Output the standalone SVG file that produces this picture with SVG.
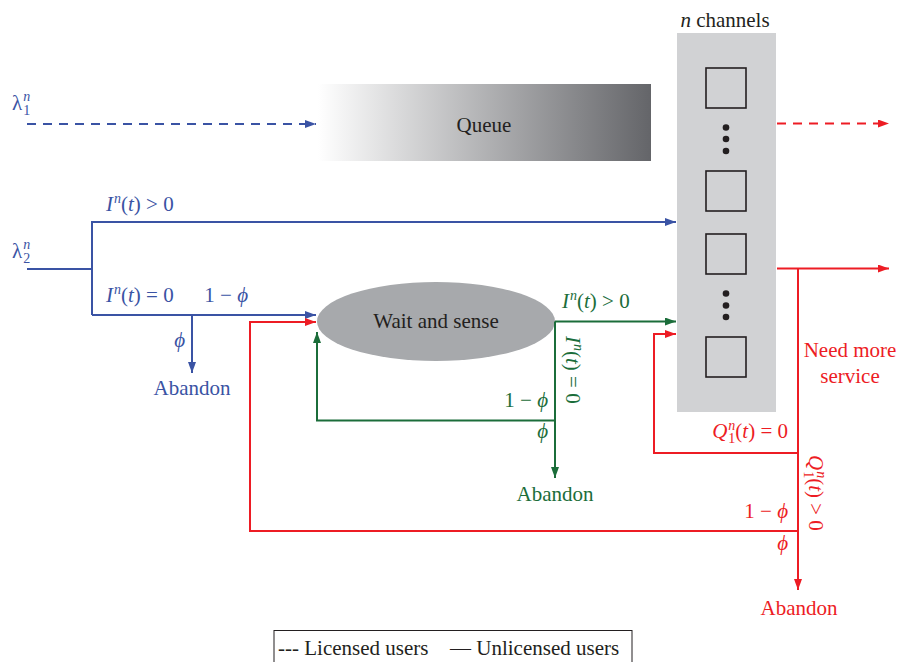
<svg xmlns="http://www.w3.org/2000/svg" width="899" height="662" viewBox="0 0 899 662">
<style>
text{font-family:"Liberation Serif","Times New Roman",serif;font-size:21px;fill:#231f20}
.it{font-style:italic}
.b{fill:#3a53a4}.g{fill:#1b6d3a}.r{fill:#ed1c24}
.lb{stroke:#3a53a4}.lg{stroke:#1b6d3a}.lr{stroke:#ed1c24}
.ln{fill:none;stroke-width:2}
.dash{stroke-dasharray:9,7}
.sq{fill:none;stroke:#231f20;stroke-width:1.6}
</style>
<defs>
<linearGradient id="qg" x1="0" y1="0" x2="1" y2="0">
<stop offset="0" stop-color="#ffffff"/>
<stop offset="1" stop-color="#646569"/>
</linearGradient>
<marker id="ab" markerUnits="userSpaceOnUse" markerWidth="11" markerHeight="8" refX="11" refY="4" orient="auto"><path d="M0,0 L11,4 L0,8 z" fill="#3a53a4"/></marker>
<marker id="ag" markerUnits="userSpaceOnUse" markerWidth="11" markerHeight="8" refX="11" refY="4" orient="auto"><path d="M0,0 L11,4 L0,8 z" fill="#1b6d3a"/></marker>
<marker id="ar" markerUnits="userSpaceOnUse" markerWidth="11" markerHeight="8" refX="11" refY="4" orient="auto"><path d="M0,0 L11,4 L0,8 z" fill="#ed1c24"/></marker>
</defs>

<g id="queue">
<rect x="318" y="84" width="333" height="77" fill="url(#qg)"/>
<text x="484" y="132" text-anchor="middle">Queue</text>
</g>

<g id="channels">
<rect x="677" y="33" width="99" height="379" fill="#d1d2d4"/>
<text x="725" y="27" text-anchor="middle"><tspan class="it">n</tspan> channels</text>
<rect class="sq" x="706" y="68" width="40" height="40"/>
<rect class="sq" x="706" y="171" width="40" height="40"/>
<rect class="sq" x="706" y="234" width="40" height="40"/>
<rect class="sq" x="706" y="337" width="40" height="40"/>
<g fill="#231f20">
<circle cx="726" cy="127.5" r="3.3"/><circle cx="726" cy="139" r="3.3"/><circle cx="726" cy="151" r="3.3"/>
<circle cx="726" cy="293.5" r="3.3"/><circle cx="726" cy="305.5" r="3.3"/><circle cx="726" cy="317" r="3.3"/>
</g>
</g>

<g id="wait">
<ellipse cx="436" cy="321.5" rx="119" ry="39.5" fill="#a7a9ac"/>
<text x="436" y="328" text-anchor="middle">Wait and sense</text>
</g>

<g id="connectors">
<path class="ln lb dash" d="M27,124 H316" marker-end="url(#ab)"/>
<path class="ln lr dash" d="M777,123.5 H889" marker-end="url(#ar)"/>
<path class="ln lb" d="M27,269 H92"/>
<path class="ln lb" d="M92,315 V222 H676" marker-end="url(#ab)"/>
<path class="ln lb" d="M92,315 H316" marker-end="url(#ab)"/>
<path class="ln lb" d="M192,315 V373" marker-end="url(#ab)"/>
<path class="ln lg" d="M555,321.5 H676" marker-end="url(#ag)"/>
<path class="ln lg" d="M555,321.5 V478" marker-end="url(#ag)"/>
<path class="ln lg" d="M555,420.5 H317 V332" marker-end="url(#ag)"/>
<path class="ln lr" d="M777,268.5 H889" marker-end="url(#ar)"/>
<path class="ln lr" d="M798,268.5 V590" marker-end="url(#ar)"/>
<path class="ln lr" d="M798,453 H654 V334 H676" marker-end="url(#ar)"/>
<path class="ln lr" d="M798,531 H250 V322 H316" marker-end="url(#ar)"/>
</g>

<g id="labels">
<text class="b" x="12" y="110">λ<tspan class="it" font-size="14" dx="1" dy="-9">n</tspan><tspan font-size="14" dx="-7" dy="14">1</tspan></text>
<text class="b" x="12" y="258">λ<tspan class="it" font-size="14" dx="1" dy="-9">n</tspan><tspan font-size="14" dx="-7" dy="14">2</tspan></text>
<text class="b" x="106" y="211"><tspan class="it">I</tspan><tspan class="it" font-size="14" dx="1" dy="-8">n</tspan><tspan dy="8">(</tspan><tspan class="it">t</tspan>) &gt; 0</text>
<text class="b" x="106" y="302"><tspan class="it">I</tspan><tspan class="it" font-size="14" dx="1" dy="-8">n</tspan><tspan dy="8">(</tspan><tspan class="it">t</tspan>) = 0</text>
<text class="b" x="248" y="302" text-anchor="end">1 − <tspan class="it">ϕ</tspan></text>
<text class="b it" x="185" y="347" text-anchor="end">ϕ</text>
<text class="b" x="192" y="395" text-anchor="middle">Abandon</text>

<text class="g" x="562" y="308"><tspan class="it">I</tspan><tspan class="it" font-size="14" dx="1" dy="-8">n</tspan><tspan dy="8">(</tspan><tspan class="it">t</tspan>) &gt; 0</text>
<text class="g" transform="translate(566,336) rotate(90)"><tspan class="it">I</tspan><tspan class="it" font-size="14" dx="1" dy="-8">n</tspan><tspan dy="8">(</tspan><tspan class="it">t</tspan>) = 0</text>
<text class="g" x="548" y="407" text-anchor="end">1 − <tspan class="it">ϕ</tspan></text>
<text class="g it" x="548" y="438" text-anchor="end">ϕ</text>
<text class="g" x="555" y="501" text-anchor="middle">Abandon</text>

<text class="r" x="850" y="357" text-anchor="middle">Need more</text>
<text class="r" x="850" y="383" text-anchor="middle">service</text>
<text class="r" x="788" y="438" text-anchor="end"><tspan class="it">Q</tspan><tspan class="it" font-size="14" dx="1" dy="-8">n</tspan><tspan font-size="14" dx="-7" dy="13">1</tspan><tspan dy="-5">(</tspan><tspan class="it">t</tspan>) = 0</text>
<text class="r" transform="translate(809,455) rotate(90)"><tspan class="it">Q</tspan><tspan class="it" font-size="14" dx="1" dy="-8">n</tspan><tspan font-size="14" dx="-7" dy="13">1</tspan><tspan dy="-5">(</tspan><tspan class="it">t</tspan>) &gt; 0</text>
<text class="r" x="788" y="518" text-anchor="end">1 − <tspan class="it">ϕ</tspan></text>
<text class="r it" x="788" y="550" text-anchor="end">ϕ</text>
<text class="r" x="799" y="615" text-anchor="middle">Abandon</text>
</g>

<g id="legend">
<rect x="274" y="630.5" width="358" height="40" fill="none" stroke="#231f20" stroke-width="1"/>
<text x="278" y="655">--- Licensed users</text>
<text x="450" y="655">— Unlicensed users</text>
</g>
</svg>
